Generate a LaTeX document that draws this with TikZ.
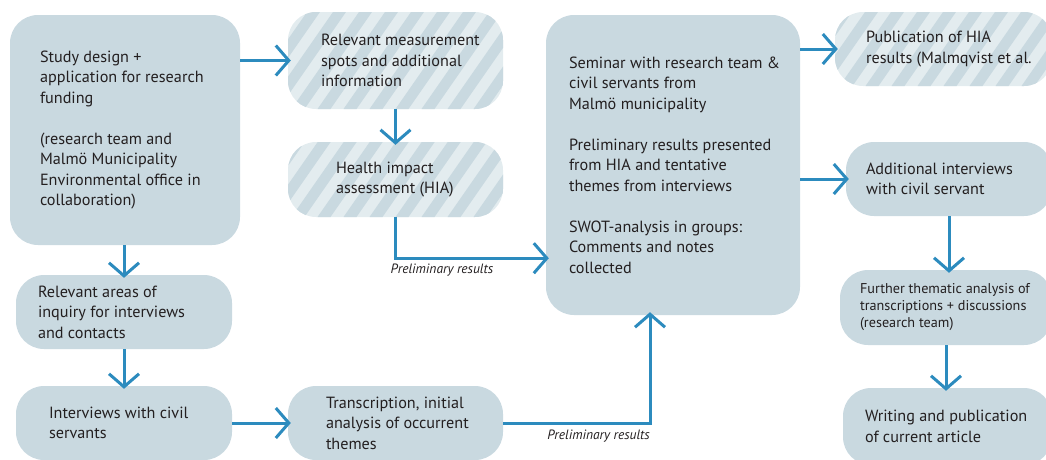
\documentclass[tikz,border=0pt]{standalone}
\usepackage{fontspec}
\setmainfont{PT Sans}
\usetikzlibrary{arrows.meta,positioning}
\definecolor{flowblue}{HTML}{2C8BBE}
\definecolor{flowbox}{HTML}{C9D9E0}
\definecolor{flowpale}{HTML}{E3ECEF}
\definecolor{flowtext}{HTML}{231F20}

\begin{document}
\begin{tikzpicture}[x=1pt,y=-1pt,
  box/.style={fill=flowbox,rounded corners=28pt,inner sep=0pt},
  hatched/.style={fill=flowpale,path picture={
      \foreach \k in {-14,...,14}
        \fill[flowbox,sharp corners] ([xshift=\k*26pt]path picture bounding box.south)
          -- ++(13pt,0pt) -- ++(80pt,115pt) -- ++(-13pt,0pt) -- cycle;}},
  txt/.style={align=left,inner sep=0pt,text=flowtext,font=\fontsize{16.2}{20.5}\selectfont},
  small/.style={txt,font=\fontsize{14.2}{17}\selectfont},
  lbl/.style={inner sep=0pt,text=flowtext,font=\fontsize{13.5}{15}\selectfont\itshape},
  arr/.style={-{Straight Barb[length=13pt,width=30pt]},line width=3pt,flowblue,shorten >=-3pt}]
  \useasboundingbox (0,0) rectangle (1046,459);
  \clip (0,0) rectangle (1046,459);

  % left column
  \node[box,minimum width=230pt,minimum height=230pt] (study) at (125,130) {};
  \node[txt,right=30pt of study.west] (study-t) {Study design +\\application for research\\funding\\[20.5pt]
    (research team and\\Malmö Municipality\\Environmental office in\\collaboration)};
  \node[box,minimum width=216pt,minimum height=74pt] (areas) at (124,312) {};
  \node[txt,right=22pt of areas.west] (areas-t) {Relevant areas of\\inquiry for interviews\\and contacts};
  \node[box,minimum width=216pt,minimum height=74pt] (intv) at (124,423) {};
  \node[txt,right=33pt of intv.west] (intv-t) {Interviews with civil\\servants};

  % second column
  \node[box,hatched,minimum width=215pt,minimum height=97pt] (meas) at (395.5,60.5) {};
  \node[txt,right=33pt of meas.west] (meas-t) {Relevant measurement\\spots and additional\\information};
  \node[box,hatched,minimum width=215pt,minimum height=75pt] (hia) at (395.5,179.5) {};
  \node[txt,right=48pt of hia.west] (hia-t) {Health impact\\assessment (HIA)};
  \node[box,minimum width=215pt,minimum height=74pt] (trans) at (395.5,423) {};
  \node[txt,right=38pt of trans.west] (trans-t) {Transcription, initial\\analysis of occurrent\\themes};

  % seminar
  \node[box,minimum width=254pt,minimum height=300pt] (sem) at (673,165) {};
  \node[txt,right=23pt of sem.west] (sem-t) {Seminar with research team \&\\civil servants from\\Malmö municipality\\[20.5pt]
    Preliminary results presented\\from HIA and tentative\\themes from interviews\\[20.5pt]
    SWOT-analysis in groups:\\Comments and notes\\collected};

  % right column
  \node[box,hatched,minimum width=217pt,minimum height=74pt] (pub) at (943.5,49) {};
  \node[txt,right=31pt of pub.west] (pub-t) {Publication of HIA\\results (Malmqvist et al.};
  \node[box,minimum width=206pt,minimum height=74pt] (addl) at (949,179) {};
  \node[txt,right=20pt of addl.west] (addl-t) {Additional interviews\\with civil servant};
  \node[box,minimum width=212pt,minimum height=75pt] (further) at (946,307.5) {};
  \node[small,right=20pt of further.west] (further-t) {Further thematic analysis of\\transcriptions + discussions\\(research team)};
  \node[box,minimum width=209pt,minimum height=77pt] (writing) at (947.5,426.5) {};
  \node[txt,right=22pt of writing.west] (writing-t) {Writing and publication\\of current article};

  % connectors
  \draw[arr] (study.east |- meas.west) -- (meas.west);
  \draw[arr] (meas.south) -- (hia.north);
  \draw[arr] (hia.south) -- ++(0,41) coordinate (hia-bend) -- (hia-bend -| sem.west);
  \node[lbl,below right=6pt and -5pt of hia-bend] (prelim-a) {Preliminary results};
  \draw[arr] (areas.north |- study.south) -- (areas.north);
  \draw[arr] (areas.south) -- (intv.north);
  \draw[arr] (intv.east) -- (trans.west);
  \coordinate (trans-bend) at ([xshift=-23pt]sem.south |- trans.east);
  \draw[arr] (trans.east) -- (trans-bend) -- ([xshift=-23pt]sem.south);
  \node[lbl,below left=7pt and 0pt of trans-bend] (prelim-b) {Preliminary results};
  \draw[arr] (sem.east |- pub.west) -- (pub.west);
  \draw[arr] (sem.east |- addl.west) -- (addl.west);
  \draw[arr] (addl.south) -- (addl.south |- further.north);
  \draw[arr] (further.south) -- (further.south |- writing.north);
\end{tikzpicture}
\end{document}
